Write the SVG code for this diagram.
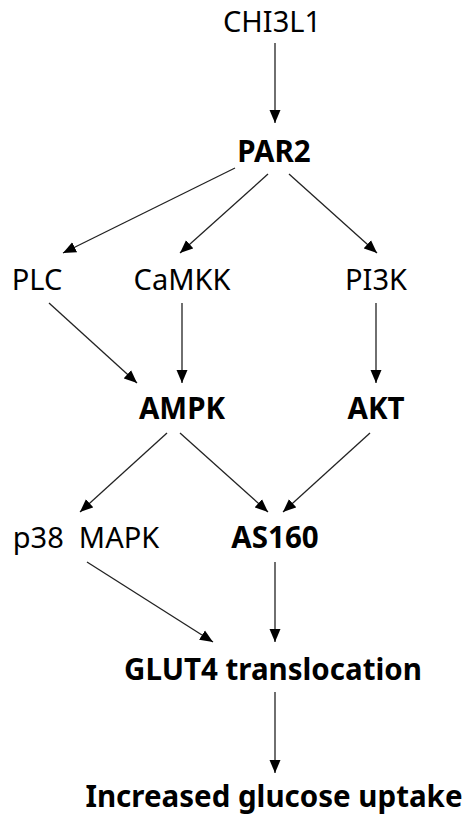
<svg xmlns="http://www.w3.org/2000/svg" width="462" height="815" viewBox="0 0 462 815">
<style>
text{font-family:"Noto Sans","Open Sans","Liberation Sans",sans-serif;font-size:29px;fill:#000;text-anchor:middle}
.b{font-weight:bold;font-size:29.5px}
.c line{stroke:#222;stroke-width:1.3;marker-end:url(#ah)}
</style>
<defs>
<marker id="ah" markerUnits="userSpaceOnUse" markerWidth="14" markerHeight="12" refX="13" refY="5.5" orient="auto" viewBox="0 0 14 11">
<path d="M0,0 L13,5.5 L0,11 Z" fill="#000"/>
</marker>
</defs>
<rect width="462" height="815" fill="#fff"/>
<g class="c" id="connectors">
<line x1="275" y1="43" x2="275" y2="123"/>
<line x1="235" y1="168" x2="63" y2="253"/>
<line x1="268" y1="174" x2="180" y2="253"/>
<line x1="289" y1="174" x2="377" y2="253"/>
<line x1="49" y1="303" x2="137" y2="383"/>
<line x1="182" y1="303" x2="182" y2="383"/>
<line x1="376" y1="303" x2="376" y2="383"/>
<line x1="167" y1="433" x2="80" y2="512"/>
<line x1="180" y1="433" x2="268" y2="512"/>
<line x1="370" y1="433" x2="283" y2="512"/>
<line x1="87" y1="562" x2="213" y2="642"/>
<line x1="275" y1="562" x2="275" y2="642"/>
<line x1="275" y1="692" x2="275" y2="773"/>
</g>
<g id="chi3l1"><text x="272" y="32">CHI3L1</text></g>
<g id="par2"><text class="b" x="274" y="162">PAR2</text></g>
<g id="plc"><text x="37" y="290">PLC</text></g>
<g id="camkk"><text x="182" y="290">CaMKK</text></g>
<g id="pi3k"><text x="376" y="290">PI3K</text></g>
<g id="ampk"><text class="b" x="182" y="419">AMPK</text></g>
<g id="akt"><text class="b" x="376" y="419">AKT</text></g>
<g id="p38"><text x="86" y="548" xml:space="preserve">p38  MAPK</text></g>
<g id="as160"><text class="b" x="275" y="548">AS160</text></g>
<g id="glut4"><text class="b" x="273" y="680">GLUT4 translocation</text></g>
<g id="uptake"><text class="b" x="274" y="807">Increased glucose uptake</text></g>
</svg>
